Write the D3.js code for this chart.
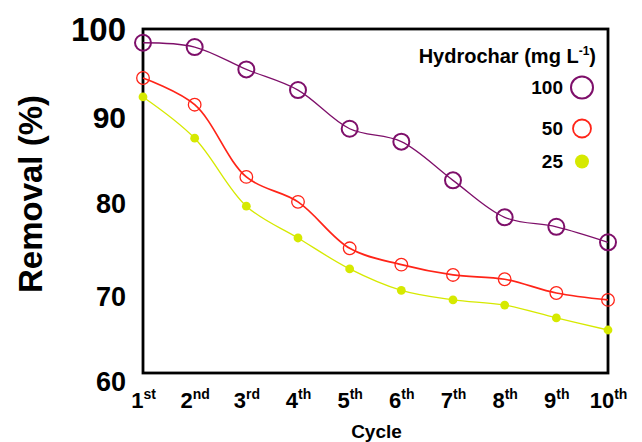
<!DOCTYPE html>
<html>
<head>
<meta charset="utf-8">
<script src="https://cdn.jsdelivr.net/npm/d3@7"></script>
<style>
  html, body { margin: 0; padding: 0; background: #fff; }
  svg { display: block; font-family: "Liberation Sans", Arial, sans-serif; font-weight: bold; }
</style>
</head>
<body>
<svg id="chart" width="642" height="442"></svg>
<script>
// Reuse cycles
const cycles = [1, 2, 3, 4, 5, 6, 7, 8, 9, 10];
const suffixes = ["st", "nd", "rd", "th", "th", "th", "th", "th", "th", "th"];

// Removal (%) per hydrochar dose (mg L-1)
const removal100 = [98.4, 97.9, 95.3, 92.9, 88.4, 86.9, 82.4, 78.1, 77.0, 75.2];
const removal50  = [94.3, 91.2, 82.8, 79.9, 74.5, 72.6, 71.4, 70.9, 69.3, 68.5];
const removal25  = [92.1, 87.3, 79.4, 75.7, 72.1, 69.6, 68.5, 67.9, 66.4, 65.0];

const doseLabels = ["100", "50", "25"];
const yTicks = [60, 70, 80, 90, 100];

const svg = d3.select("#chart");
const plot = { left: 143, top: 29, right: 608, bottom: 373 };

const x = d3.scaleLinear().domain([1, 10]).range([plot.left, plot.right]);
const y = d3.scaleLinear().domain([60, 100]).range([plot.bottom, plot.top]);

// Series styling
const series = [
  { name: doseLabels[0], values: removal100, color: "#7e0f6a", lineW: 1.3, r: 8,   ring: 2.0, filled: false, legR: 11, legRing: 2.0 },
  { name: doseLabels[1], values: removal50,  color: "#ff2418", lineW: 1.7, r: 6.3, ring: 1.3, filled: false, legR: 9,  legRing: 1.8 },
  { name: doseLabels[2], values: removal25,  color: "#d6e900", lineW: 1.3, r: 4.4, ring: 0,   filled: true,  legR: 7,  legRing: 0 }
];

// Plot frame
svg.append("rect")
  .attr("x", plot.left).attr("y", plot.top)
  .attr("width", plot.right - plot.left).attr("height", plot.bottom - plot.top)
  .attr("fill", "none").attr("stroke", "#000").attr("stroke-width", 2.8);

// Y axis labels (no tick marks)
const yFont = { 100: 33, 90: 30, 80: 27, 70: 27, 60: 27 };
const yNudge = { 100: 0, 90: 2, 80: 2, 70: 9, 60: 8 };
const yAxis = svg.append("g")
  .attr("transform", `translate(${plot.left},0)`)
  .call(d3.axisLeft(y).tickValues(yTicks).tickSize(0).tickPadding(17).tickFormat(d3.format("d")));
yAxis.select(".domain").remove();
yAxis.selectAll("text")
  .attr("fill", "#000")
  .attr("font-family", "Liberation Sans, Arial, sans-serif")
  .attr("font-weight", "bold")
  .attr("font-size", d => yFont[d])
  .attr("dy", "0.36em")
  .attr("y", d => yNudge[d]);

// X axis labels with ordinal superscripts
const xAxis = svg.append("g")
  .attr("transform", `translate(0,${plot.bottom})`)
  .call(d3.axisBottom(x).tickValues(cycles).tickSize(0).tickFormat(d => String(d)));
xAxis.select(".domain").remove();
xAxis.selectAll("text")
  .attr("fill", "#000")
  .attr("font-family", "Liberation Sans, Arial, sans-serif")
  .attr("font-weight", "bold")
  .attr("font-size", 22)
  .attr("y", 35).attr("dy", 0)
  .each(function(d, i) {
    const t = d3.select(this);
    t.text(null);
    t.append("tspan").text(String(d));
    t.append("tspan").attr("font-size", 14).attr("dy", -9).text(suffixes[i]);
  });

// Axis titles
svg.append("text")
  .attr("x", (plot.left + plot.right) / 2 + 1).attr("y", 438)
  .attr("text-anchor", "middle").attr("font-size", 19).text("Cycle");

svg.append("text")
  .attr("transform", `translate(42,${(plot.top + plot.bottom) / 2 - 7}) rotate(-90)`)
  .attr("text-anchor", "middle").attr("font-size", 33).text("Removal (%)");

// Smoothed lines and markers
const line = d3.line()
  .x((d, i) => x(cycles[i]))
  .y(d => y(d))
  .curve(d3.curveCatmullRom.alpha(0.5));

series.forEach(s => {
  svg.append("path")
    .attr("d", line(s.values))
    .attr("fill", "none")
    .attr("stroke", s.color)
    .attr("stroke-width", s.lineW);
});

series.forEach(s => {
  svg.append("g").selectAll("circle")
    .data(s.values)
    .join("circle")
    .attr("cx", (d, i) => x(cycles[i]))
    .attr("cy", d => y(d))
    .attr("r", s.r)
    .attr("fill", s.filled ? s.color : "none")
    .attr("stroke", s.filled ? "none" : s.color)
    .attr("stroke-width", s.ring);
});

// Legend
const legend = svg.append("g");
const title = legend.append("text")
  .attr("x", 596).attr("y", 63)
  .attr("text-anchor", "end").attr("font-size", 20);
title.append("tspan").text("Hydrochar (mg L");
title.append("tspan").attr("font-size", 12).attr("dy", -8).text("-1");
title.append("tspan").attr("dy", 8).text(")");

const legendRows = [94, 135, 168];
series.forEach((s, i) => {
  const by = legendRows[i];
  legend.append("text")
    .attr("x", 563).attr("y", by)
    .attr("text-anchor", "end").attr("font-size", 19)
    .text(s.name);
  legend.append("circle")
    .attr("cx", 582).attr("cy", by - 6.5)
    .attr("r", s.legR)
    .attr("fill", s.filled ? s.color : "none")
    .attr("stroke", s.filled ? "none" : s.color)
    .attr("stroke-width", s.legRing);
});
</script>
</body>
</html>
